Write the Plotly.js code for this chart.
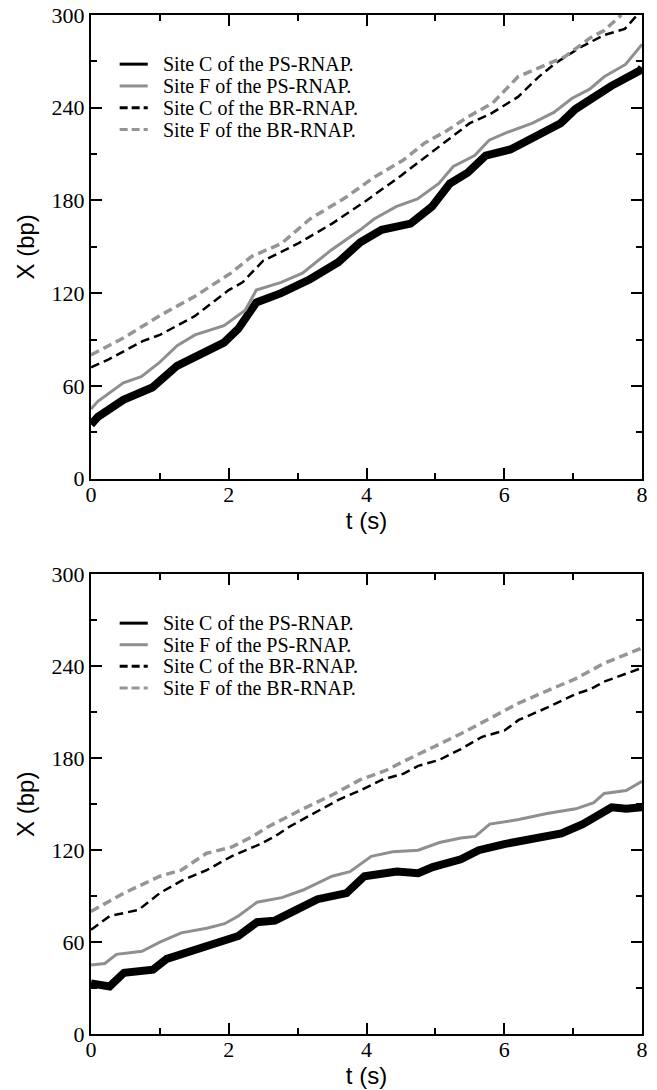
<!DOCTYPE html>
<html>
<head>
<meta charset="utf-8">
<script src="https://cdn.plot.ly/plotly-3.0.1.min.js"></script>
<style>html,body{margin:0;padding:0;background:#fff;}#chart{width:657px;height:1090px;}</style>
</head>
<body>
<div id="chart"></div>
<script>
// ---------- Data ----------
var legendLabels = ["Site C of the PS-RNAP.", "Site F of the PS-RNAP.", "Site C of the BR-RNAP.", "Site F of the BR-RNAP."];
var xTickVals = [0, 2, 4, 6, 8];
var yTickVals = [0, 60, 120, 180, 240, 300];

// Top panel
var topCPS_t = [0, 0.1, 0.47, 0.89, 1.25, 1.51, 1.93, 2.14, 2.4, 2.76, 3.18, 3.59, 3.91, 4.22, 4.64, 4.95, 5.21, 5.47, 5.73, 6.09, 6.41, 6.82, 7.03, 7.29, 7.55, 7.97, 8.0];
var topCPS_x = [35, 40, 51, 59, 73, 79, 88, 97, 114, 120, 129, 140, 153, 161, 165, 176, 191, 198, 209, 213, 220, 230, 239, 247, 254, 264, 266];

var topFPS_t = [0, 0.1, 0.47, 0.73, 0.99, 1.25, 1.51, 1.93, 2.24, 2.4, 2.76, 3.07, 3.49, 3.91, 4.11, 4.43, 4.74, 5.05, 5.26, 5.57, 5.78, 6.04, 6.41, 6.72, 6.98, 7.24, 7.45, 7.76, 8.0];
var topFPS_x = [45, 50, 62, 66, 75, 86, 93, 99, 109, 122, 127, 133, 148, 161, 168, 176, 181, 191, 202, 209, 219, 224, 230, 237, 246, 252, 260, 268, 281];

var topCBR_t = [0, 0.25, 0.5, 0.75, 1.0, 1.5, 2.0, 2.2, 2.5, 3.0, 3.5, 4.0, 4.5, 5.0, 5.2, 5.5, 5.8, 6.2, 6.5, 6.75, 7.1, 7.45, 7.75, 7.85, 7.93];
var topCBR_x = [72, 77, 83, 89, 93, 105, 122, 127, 141, 152, 165, 180, 196, 213, 220, 230, 236, 247, 260, 269, 279, 287, 291, 296, 300];

var topFBR_t = [0, 0.47, 1.02, 1.51, 2.03, 2.34, 2.76, 3.18, 3.70, 4.11, 4.53, 4.84, 5.16, 5.47, 5.83, 6.20, 6.51, 6.88, 7.24, 7.45, 7.7];
var topFBR_x = [80, 91, 106, 118, 133, 144, 152, 168, 182, 195, 206, 217, 225, 234, 243, 260, 266, 273, 285, 290, 300];

// Bottom panel
var botCPS_t = [0, 0.27, 0.48, 0.9, 1.1, 1.52, 1.94, 2.14, 2.41, 2.67, 2.98, 3.29, 3.71, 3.97, 4.12, 4.44, 4.75, 4.96, 5.37, 5.63, 6.0, 6.41, 6.83, 7.14, 7.35, 7.56, 7.77, 8.0];
var botCPS_x = [33, 31, 40, 42, 49, 55, 60, 64, 73, 74, 81, 88, 92, 103, 104, 106, 105, 109, 114, 120, 124, 127, 131, 137, 143, 148, 147, 148];

var botFPS_t = [0, 0.2, 0.37, 0.74, 1.0, 1.31, 1.68, 1.94, 2.14, 2.41, 2.77, 3.08, 3.5, 3.76, 4.07, 4.38, 4.75, 5.06, 5.37, 5.58, 5.79, 6.21, 6.62, 7.04, 7.3, 7.45, 7.77, 8.0];
var botFPS_x = [45, 46, 52, 54, 60, 66, 69, 72, 77, 86, 89, 94, 103, 106, 116, 119, 120, 125, 128, 129, 137, 140, 144, 147, 151, 157, 159, 165];

var botCBR_t = [0, 0.27, 0.48, 0.69, 1.0, 1.31, 1.68, 2.04, 2.25, 2.46, 2.67, 2.87, 3.19, 3.6, 3.91, 4.23, 4.54, 4.75, 5.06, 5.37, 5.68, 6.0, 6.21, 6.62, 7.04, 7.25, 7.45, 7.77, 8.0];
var botCBR_x = [68, 77, 79, 81, 92, 100, 107, 116, 120, 124, 129, 135, 143, 153, 159, 166, 170, 175, 179, 186, 194, 198, 205, 213, 222, 225, 230, 235, 239];

var botFBR_t = [0, 0.48, 1.0, 1.31, 1.68, 2.04, 2.35, 2.56, 3.08, 3.5, 3.91, 4.28, 4.54, 4.96, 5.37, 5.79, 6.21, 6.62, 7.04, 7.45, 7.77, 8.0];
var botFBR_x = [80, 92, 103, 107, 118, 122, 129, 135, 147, 156, 166, 172, 178, 187, 196, 206, 216, 224, 232, 242, 248, 252];

// ---------- Styles ----------
var BLACK = "#000000";
var GRAY_SOLID = "#8f8f8f";
var GRAY_DASH = "#959595";
var styles = [
  {color: BLACK, width: 8, dash: "solid"},
  {color: GRAY_SOLID, width: 3, dash: "solid"},
  {color: BLACK, width: 2.5, dash: "9px,5px"},
  {color: GRAY_DASH, width: 3.5, dash: "9px,5px"}
];
var legendStyles = [
  {color: BLACK, width: 3, dash: "solid"},
  {color: GRAY_SOLID, width: 3, dash: "solid"},
  {color: BLACK, width: 3, dash: "8px,4px"},
  {color: GRAY_DASH, width: 3, dash: "8px,4px"}
];

function mk(t, x, i, xa, ya) {
  return {x: t, y: x, type: "scatter", mode: "lines", xaxis: xa, yaxis: ya,
          line: {color: styles[i].color, width: styles[i].width, dash: styles[i].dash},
          showlegend: false, hoverinfo: "skip"};
}

var data = [
  mk(topCPS_t, topCPS_x, 0, "x", "y"),
  mk(topFPS_t, topFPS_x, 1, "x", "y"),
  mk(topCBR_t, topCBR_x, 2, "x", "y"),
  mk(topFBR_t, topFBR_x, 3, "x", "y"),
  mk(botCPS_t, botCPS_x, 0, "x2", "y2"),
  mk(botFPS_t, botFPS_x, 1, "x2", "y2"),
  mk(botCBR_t, botCBR_x, 2, "x2", "y2"),
  mk(botFBR_t, botFBR_x, 3, "x2", "y2")
];

var tickFont = {family: "Liberation Serif, Times New Roman, serif", size: 22, color: "#000"};
var titleFont = {family: "Liberation Sans, Arial, sans-serif", size: 24, color: "#000"};

function xAxis(anchor) {
  return {
    anchor: anchor, range: [0, 8], tickvals: xTickVals, ticktext: xTickVals.map(String),
    ticks: "inside", ticklen: 11, tickwidth: 2, tickcolor: "#000",
    minor: {dtick: 1, tick0: 0, ticks: "inside", ticklen: 6, tickwidth: 2, tickcolor: "#000"},
    showline: true, linewidth: 2, linecolor: "#000", mirror: "ticks",
    showgrid: false, zeroline: false, tickfont: tickFont, ticklabelstandoff: -5,
    title: {text: "t (s)", font: titleFont, standoff: 6},
    automargin: false, fixedrange: true
  };
}
function yAxis(anchor, domain) {
  return {
    anchor: anchor, domain: domain, range: [0, 300], tickvals: yTickVals, ticktext: yTickVals.map(String),
    ticks: "inside", ticklen: 11, tickwidth: 2, tickcolor: "#000",
    minor: {dtick: 30, tick0: 0, ticks: "inside", ticklen: 6, tickwidth: 2, tickcolor: "#000"},
    showline: true, linewidth: 2, linecolor: "#000", mirror: "ticks",
    showgrid: false, zeroline: false, tickfont: tickFont,
    title: {text: "X (bp)", font: titleFont, standoff: 10},
    automargin: false, fixedrange: true
  };
}

// Manual legend (tight row spacing as in the reference)
var rowY = [0.894, 0.847, 0.800, 0.753];
var shapes = [], annotations = [];
[["x", "y"], ["x2", "y2"]].forEach(function (ax) {
  for (var i = 0; i < 4; i++) {
    shapes.push({type: "line", xref: ax[0] + " domain", yref: ax[1] + " domain",
      x0: 0.052, x1: 0.103, y0: rowY[i], y1: rowY[i],
      line: {color: legendStyles[i].color, width: legendStyles[i].width, dash: legendStyles[i].dash}});
    annotations.push({xref: ax[0] + " domain", yref: ax[1] + " domain", x: 0.128, y: rowY[i],
      xanchor: "left", yanchor: "middle", showarrow: false, text: legendLabels[i],
      borderpad: 0, height: 20,
      font: {family: "Liberation Serif, Times New Roman, serif", size: 20, color: "#000"}});
  }
});

var layout = {
  width: 657, height: 1090,
  margin: {l: 91, r: 15, t: 15, b: 56},
  paper_bgcolor: "#fff", plot_bgcolor: "#fff",
  showlegend: false,
  xaxis: xAxis("y"),
  yaxis: yAxis("x", [0.545, 1]),
  xaxis2: xAxis("y2"),
  yaxis2: yAxis("x2", [0, 0.451]),
  shapes: shapes,
  annotations: annotations
};

Plotly.newPlot("chart", data, layout, {staticPlot: true, displayModeBar: false});
</script>
</body>
</html>
